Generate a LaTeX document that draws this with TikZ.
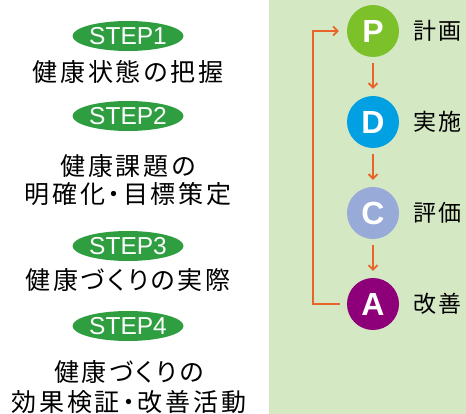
\documentclass[tikz,border=0pt]{standalone}
\usepackage{fontspec}
\setmainfont{Noto Sans CJK JP}
\newfontfamily\jpfont[LetterSpace=11,RawFeature=+palt]{Noto Sans CJK JP}
\newfontfamily\jplabel[LetterSpace=9]{Noto Sans CJK JP}
\newfontfamily\latinfont{Liberation Sans}
\usetikzlibrary{arrows.meta,shapes.geometric}
\definecolor{panelgreen}{HTML}{D5E8C4}
\definecolor{stepgreen}{HTML}{2E9E40}
\definecolor{arrorange}{HTML}{E8642A}
\definecolor{pcol}{HTML}{7DC12A}
\definecolor{dcol}{HTML}{00A0E2}
\definecolor{ccol}{HTML}{97AAD8}
\definecolor{acol}{HTML}{8E0079}
\tikzset{
  x=1pt, y=-1pt,
  stepoval/.style={ellipse, fill=stepgreen, minimum width=111pt, minimum height=30pt, inner sep=0pt,
    text=white, font=\latinfont\fontsize{24.5}{24.5}\selectfont},
  steptext/.style={align=center, font=\jpfont\fontsize{25}{28}\selectfont, inner sep=0pt},
  pdca/.style={circle, minimum size=52pt, inner sep=0pt, text=white, font=\latinfont\bfseries\fontsize{32}{32}\selectfont},
  pdcalabel/.style={anchor=west, inner sep=0pt, font=\jplabel\fontsize{23}{23}\selectfont},
  flow/.style={draw=arrorange, line width=1.8pt, -{Straight Barb[length=4.5pt,width=9pt,line width=1.8pt]}},
}
\begin{document}
\begin{tikzpicture}
\useasboundingbox (0,0) rectangle (466,414);
\fill[white] (0,0) rectangle (269,414);
\fill[panelgreen] (269,0) rectangle (466,414);
% left
\node[stepoval] (s1) at (128,36) {STEP1};
\node[steptext] (t1) at (128,72) {健康状態の把握};
\node[stepoval] (s2) at (128,116) {STEP2};
\node[steptext] (t2) at (128,180) {健康課題の\\明確化・目標策定};
\node[stepoval] (s3) at (128,246) {STEP3};
\node[steptext] (t3) at (128,280) {健康づくりの実際};
\node[stepoval] (s4) at (128,326) {STEP4};
\node[steptext, font=\jpfont\fontsize{25}{30}\selectfont] (t4) at (129,387) {健康づくりの\\効果検証・改善活動};
% right
\node[pdca, fill=pcol] (P) at (373,31) {P};
\node[pdca, fill=dcol] (D) at (373,122) {D};
\node[pdca, fill=ccol] (C) at (373,213) {C};
\node[pdca, fill=acol] (A) at (373,304) {A};
\node[pdcalabel] (lp) at (413,31) {計画};
\node[pdcalabel] (ld) at (413,122) {実施};
\node[pdcalabel] (lc) at (413,213) {評価};
\node[pdcalabel] (la) at (413,304) {改善};
\draw[flow] ([yshift=-6pt]P.south) -- ([yshift=7pt]D.north);
\draw[flow] ([yshift=-6pt]D.south) -- ([yshift=7pt]C.north);
\draw[flow] ([yshift=-6pt]C.south) -- ([yshift=7pt]A.north);
\coordinate (lb) at (313,304);
\coordinate (lt) at (313,31);
\draw[flow] ([xshift=-7pt]A.west) -- (lb) -- (lt) -- ([xshift=-8pt]P.west);
\end{tikzpicture}
\end{document}
